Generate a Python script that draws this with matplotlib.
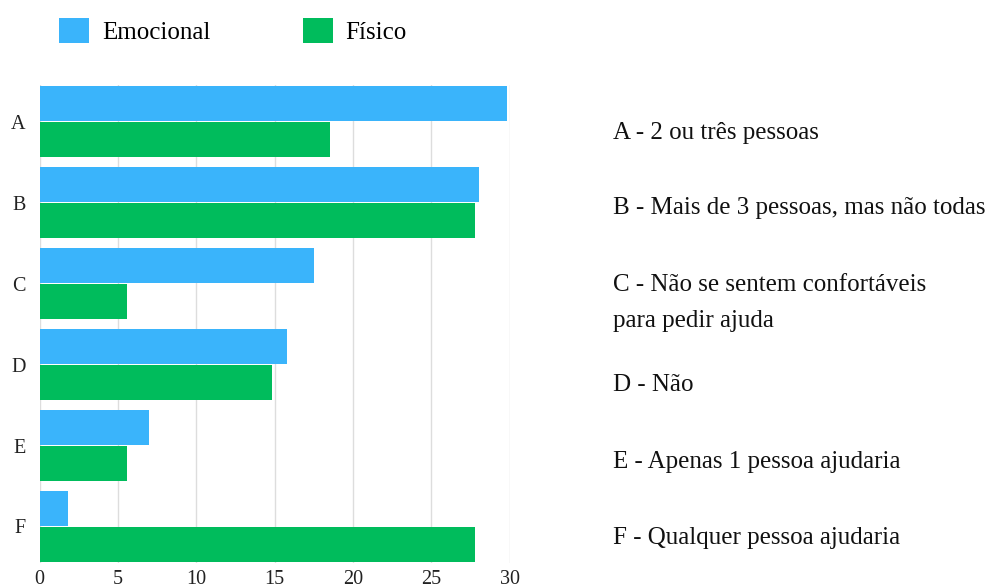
import numpy as np
import matplotlib.pyplot as plt

plt.rcParams["font.family"] = ["Liberation Serif", "DejaVu Serif"]

categorias = ["A", "B", "C", "D", "E", "F"]
emocional = [29.8, 28.0, 17.5, 15.8, 7.0, 1.8]
fisico = [18.5, 27.8, 5.6, 14.8, 5.6, 27.8]
legendas = [
    "A - 2 ou três pessoas",
    "B - Mais de 3 pessoas, mas não todas",
    "C - Não se sentem confortáveis\npara pedir ajuda",
    "D - Não",
    "E - Apenas 1 pessoa ajudaria",
    "F - Qualquer pessoa ajudaria",
]

azul = "#3AB4FB"
verde = "#00BC5C"

fig = plt.figure(figsize=(9.9, 5.87), dpi=100)
ax = fig.add_axes([0.040, 0.041, 0.475, 0.814])

y = np.arange(len(categorias))
h = 0.43
b1 = ax.barh(y - h / 2 - 0.01, emocional, height=h, color=azul, label="Emocional", zorder=3)
b2 = ax.barh(y + h / 2 + 0.01, fisico, height=h, color=verde, label="Físico", zorder=3)

ax.set_xlim(0, 30)
ax.set_ylim(len(categorias) - 0.55, -0.45)
ax.set_xticks(range(0, 31, 5))
ax.set_yticks(y)
ax.set_yticklabels(categorias)
ax.tick_params(axis="both", length=0, labelsize=14.5, colors="#222222")
ax.tick_params(axis="y", pad=10)
ax.tick_params(axis="x", pad=5)
ax.grid(axis="x", color="#dddddd", linewidth=1, zorder=0)
for s in ax.spines.values():
    s.set_visible(False)

# legenda no topo
fig.legend(handles=[b1, b2], loc="upper left", bbox_to_anchor=(0.060, 0.970),
           ncol=2, frameon=False, fontsize=18, handlelength=1.2, handleheight=1.2,
           handletextpad=0.5, columnspacing=3.7, borderpad=0, borderaxespad=0)

# descrições das categorias à direita
pos_y = [133, 208, 303, 385, 462, 538]
for texto, py in zip(legendas, pos_y):
    fig.text(613 / 990, 1 - py / 587, texto, fontsize=18, va="center", ha="left",
             color="#111111", linespacing=1.85)

fig.savefig("out.png", dpi=100)
